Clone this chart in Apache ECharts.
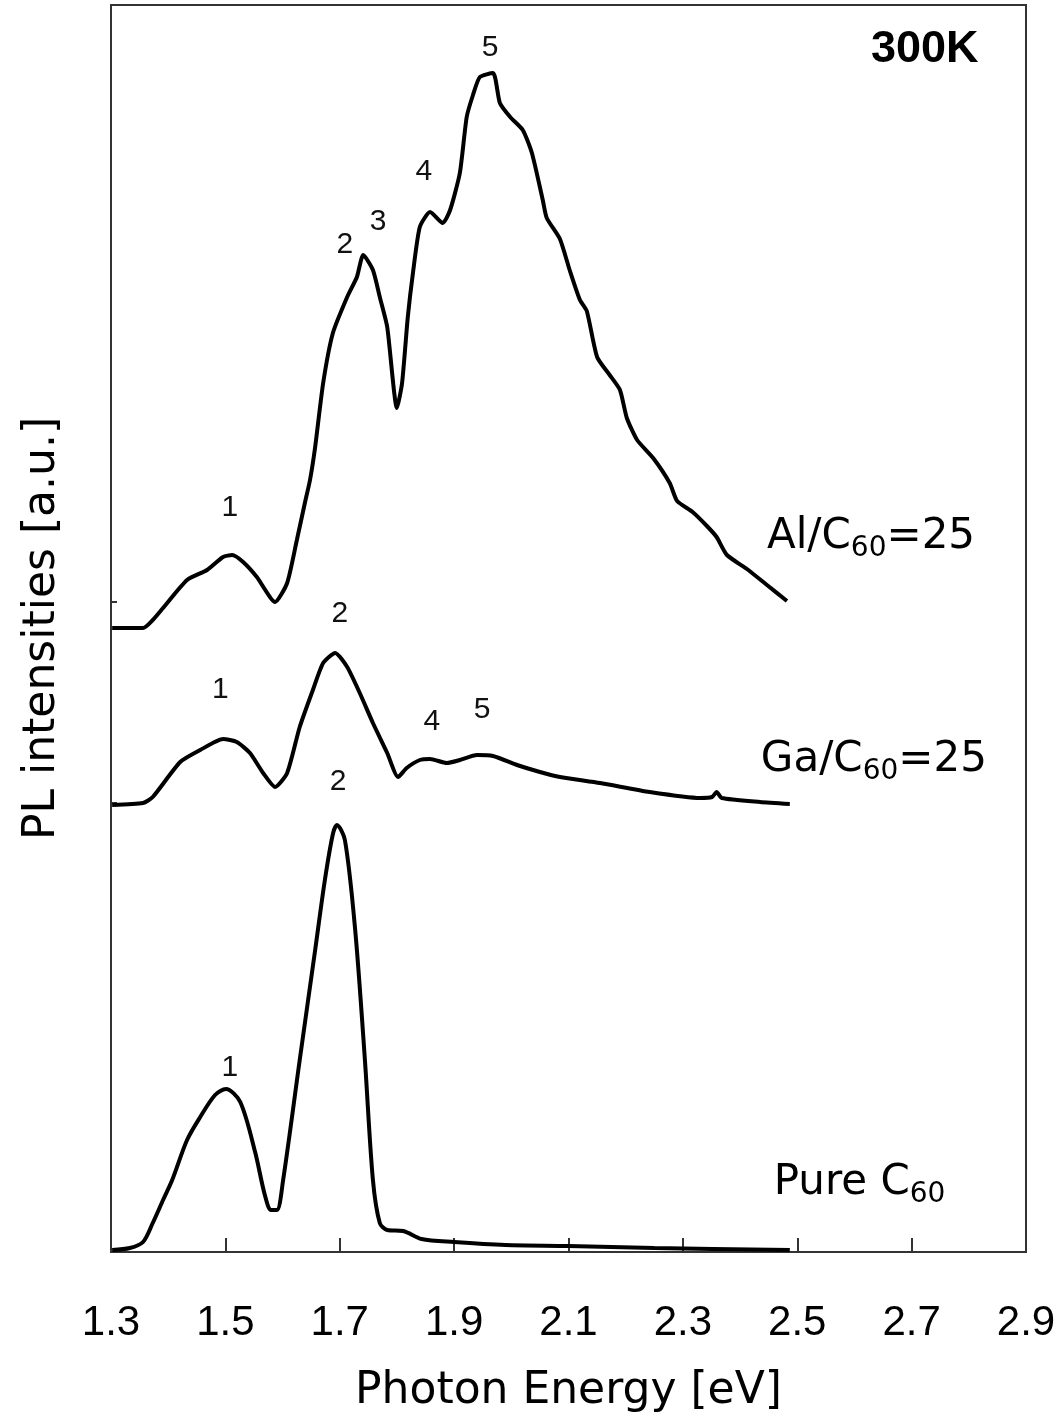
<!DOCTYPE html>
<html>
<head>
<meta charset="utf-8">
<script src="https://cdn.jsdelivr.net/npm/echarts@6/dist/echarts.min.js"></script>
<style>
html,body{margin:0;padding:0;background:#fff;}
#chart{width:1064px;height:1427px;}
</style>
</head>
<body>
<div id="chart"></div>
<script>
// Photon energy [eV] and PL intensity (arbitrary, vertically offset) for each spectrum
const alEnergy = [1.302,1.356,1.373,1.391,1.433,1.468,1.496,1.512,1.531,1.555,1.587,1.608,1.625,1.639,1.648,1.657,1.671,1.688,1.713,1.730,1.741,1.758,1.770,1.783,1.800,1.809,1.819,1.828,1.840,1.858,1.880,1.893,1.910,1.922,1.933,1.945,1.968,1.980,1.998,2.020,2.036,2.055,2.062,2.085,2.102,2.120,2.132,2.150,2.172,2.190,2.202,2.220,2.248,2.277,2.290,2.317,2.342,2.359,2.377,2.412,2.447,2.482];
const alIntensity = [624,624,632,644,672,682,695,697,690,675,650,669,712,749,772,805,869,919,955,975,997,982,955,925,844,869,935,979,1025,1040,1029,1042,1079,1135,1157,1175,1179,1149,1135,1122,1099,1052,1034,1013,982,952,941,895,877,862,834,812,794,769,751,740,726,715,697,683,667,651];

const gaEnergy = [1.302,1.356,1.373,1.421,1.456,1.496,1.520,1.543,1.566,1.587,1.608,1.630,1.653,1.671,1.692,1.713,1.735,1.758,1.783,1.802,1.817,1.840,1.858,1.887,1.910,1.940,1.968,2.010,2.050,2.085,2.155,2.242,2.330,2.351,2.359,2.368,2.435,2.487];
const gaIntensity = [447,449,455,490,502,513,510,499,479,465,479,525,562,589,599,585,559,529,499,475,484,492,493,489,492,497,496,487,480,475,469,460,454,455,460,454,450,448];

const pureEnergy = [1.302,1.333,1.356,1.373,1.391,1.407,1.433,1.456,1.482,1.501,1.526,1.552,1.569,1.580,1.590,1.601,1.630,1.657,1.674,1.688,1.695,1.709,1.727,1.744,1.758,1.770,1.783,1.811,1.843,1.900,1.990,2.100,2.250,2.487];
const pureIntensity = [2,4,10,29,52,72,112,135,157,163,150,100,57,42,42,72,192,302,372,418,427,412,322,192,72,29,22,21,13,10,7,6,4,2];

// Peak number annotations [energy, intensity, label]
const peakLabels = [
  [1.508,744,'1'],[1.709,1007,'2'],[1.767,1030,'3'],[1.847,1080,'4'],[1.963,1204,'5'],
  [1.491,562,'1'],[1.700,638,'2'],[1.861,530,'4'],[1.949,542,'5'],
  [1.697,470,'2'],[1.508,184,'1']
];
// Curve titles [energy, intensity, main, subscript, tail]
const curveTitles = [
  [2.629,715,'Al/C','60','=25'],
  [2.634,492,'Ga/C','60','=25'],
  [2.609,69,'Pure C','60','']
];
const tempLabel = [[2.723,1202,'300K']];

const xTicks = [1.3,1.5,1.7,1.9,2.1,2.3,2.5,2.7,2.9];

function zip(xs, ys){ return xs.map((x,i)=>[x, ys[i]]); }

const chart = echarts.init(document.getElementById('chart'));
const lineStyle = {color:'#000', width:4};
const hidden = {color:'rgba(255,255,255,0)', opacity:1};
chart.setOption({
  animation:false,
  backgroundColor:'#fff',
  grid:{left:111, right:38, top:5, bottom:175, show:true, borderColor:'#333', borderWidth:2},
  xAxis:{
    type:'value', min:1.3, max:2.9, interval:0.2,
    axisLine:{show:true, lineStyle:{color:'#333', width:2}},
    axisTick:{show:true, inside:true, length:14, lineStyle:{color:'#333', width:2}},
    splitLine:{show:false},
    axisLabel:{margin:50, fontSize:42, color:'#000', fontFamily:'Liberation Sans, Arial, sans-serif',
      formatter:v=>{ const t = xTicks.find(k=>Math.abs(k-v)<1e-6); return t===undefined?'':t.toFixed(1);} },
    name:'Photon Energy [eV]', nameLocation:'middle', nameGap:118,
    nameTextStyle:{fontSize:44, color:'#000', fontFamily:'DejaVu Sans, sans-serif'}
  },
  yAxis:{
    type:'value', min:0, max:1247,
    axisLine:{show:true, lineStyle:{color:'#333', width:2}},
    axisTick:{show:true, inside:true, length:6, customValues:[449,650], lineStyle:{color:'#333', width:2}},
    axisLabel:{show:false},
    splitLine:{show:false},
    name:'PL intensities [a.u.]', nameLocation:'middle', nameGap:46,
    nameTextStyle:{fontSize:44, color:'#000', fontFamily:'DejaVu Sans, sans-serif'}
  },
  series:[
    {type:'line', data:zip(alEnergy, alIntensity), showSymbol:false, symbol:'none', smooth:0.2, lineStyle:lineStyle},
    {type:'line', data:zip(gaEnergy, gaIntensity), showSymbol:false, symbol:'none', smooth:0.2, lineStyle:lineStyle},
    {type:'line', data:zip(pureEnergy, pureIntensity), showSymbol:false, symbol:'none', smooth:0.3, lineStyle:lineStyle},
    {type:'scatter', data:peakLabels, symbolSize:2, itemStyle:hidden, silent:true,
      label:{show:true, position:'inside', formatter:p=>String(p.data[2]), fontSize:30, color:'#111', opacity:1,
        fontFamily:'Liberation Sans, Arial, sans-serif'}},
    {type:'scatter', data:curveTitles, symbolSize:2, itemStyle:hidden, silent:true,
      label:{show:true, position:'inside', opacity:1,
        formatter:p=>'{m|'+p.data[2]+'}{s|'+p.data[3]+'}'+(p.data[4]?'{m|'+p.data[4]+'}':''),
        rich:{
          m:{fontSize:42, verticalAlign:'middle', color:'#000', fontFamily:'DejaVu Sans, sans-serif'},
          s:{fontSize:28, verticalAlign:'middle', padding:[24,0,0,0], color:'#000', fontFamily:'DejaVu Sans, sans-serif'}
        }}},
    {type:'scatter', data:tempLabel, symbolSize:2, itemStyle:hidden, silent:true,
      label:{show:true, position:'inside', opacity:1, formatter:p=>String(p.data[2]), fontSize:45, fontWeight:'bold', color:'#000',
        fontFamily:'Liberation Sans, Arial, sans-serif'}}
  ]
});
</script>
</body>
</html>
